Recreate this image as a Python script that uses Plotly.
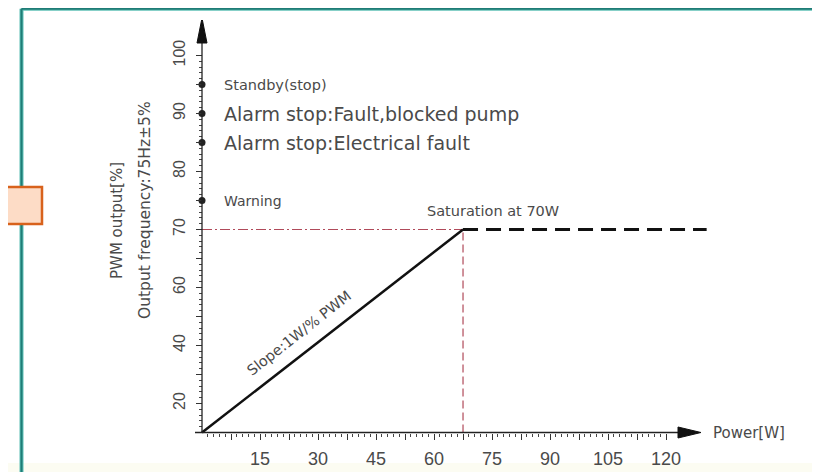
import numpy as np
import plotly.graph_objects as go

# ---------------- data ----------------
pwm_scale_values = [10, 20, 40, 60, 70, 80, 90, 100]        # PWM [%] values on the (non-linear) axis
pwm_scale_slots = [0.5, 1, 2, 3, 4, 5, 6, 7]                 # equally spaced slots used by the drawing
y_tick_values = [20, 40, 60, 70, 80, 90, 100]
y_tick_labels = ["20", "40", "60", "70", "80", "90", "100"]
x_tick_values = [15, 30, 45, 60, 75, 90, 105, 120]
x_tick_labels = ["15", "30", "45", "60", "75", "90", "105", "120"]

status_names = ["Standby(stop)", "Alarm stop:Fault,blocked pump",
                "Alarm stop:Electrical fault", "Warning"]
status_pwm = [95, 90, 85, 75]

slope_power = [0, 67.5]          # W
slope_pwm = [10, 70]             # %
saturation_power = [67.5, 130.5]
saturation_pwm = [70, 70]


def slot(v):
    return np.interp(v, pwm_scale_values, pwm_scale_slots)


# ---------------- geometry (page pixels; the page body has an 8px margin) ----------------
W, H = 820, 472
OFF = 8.0


def fx(p):      # page px -> paper x
    return (p - OFF) / W


def fy(p):      # page px -> paper y
    return 1 - (p - OFF) / H


X0, Y0 = 202.0, 432.5          # origin in page px
PXW = 3.867                    # px per W
PXS = 58.0                     # px per slot
XD = (150, 760)                # plot area page px (x)
YD = (20, 455)                 # plot area page px (y, top->bottom)

xr = [(XD[0] - X0) / PXW, (XD[1] - X0) / PXW]
yr = [0.5 - (YD[1] - Y0) / PXS, 0.5 + (Y0 - YD[0]) / PXS]

grey = "#4a4a4a"
red = "#b04a5a"
narrow = "Liberation Sans Narrow, Arial Narrow, Liberation Sans, sans-serif"
sans = "DejaVu Sans, Verdana, sans-serif"

fig = go.Figure()

# reference lines (saturation)
fig.add_trace(go.Scatter(x=[0, slope_power[1]], y=slot([70, 70]), mode="lines",
                         line=dict(color=red, width=1.2, dash="10px,3px,2px,3px"),
                         hoverinfo="skip", showlegend=False))
fig.add_trace(go.Scatter(x=[slope_power[1], slope_power[1]], y=[0.5, slot(70)], mode="lines",
                         line=dict(color=red, width=1.2, dash="8px,4px"),
                         hoverinfo="skip", showlegend=False))
# slope
fig.add_trace(go.Scatter(x=slope_power, y=slot(slope_pwm), mode="lines",
                         line=dict(color="#111111", width=2.5),
                         hoverinfo="skip", showlegend=False))
# saturation dashed
fig.add_trace(go.Scatter(x=saturation_power, y=slot(saturation_pwm), mode="lines",
                         line=dict(color="#111111", width=3, dash="15px,8px"),
                         hoverinfo="skip", showlegend=False))
# status dots
fig.add_trace(go.Scatter(x=[0] * len(status_pwm), y=slot(status_pwm), mode="markers",
                         marker=dict(color="#222222", size=7),
                         hoverinfo="skip", showlegend=False))

shapes = []
# page decoration: light bottom band
shapes.append(dict(type="rect", xref="paper", yref="paper", x0=0, x1=1,
                   y0=0, y1=fy(463), fillcolor="#fcfcf2", line=dict(width=0), layer="below"))
# axis lines
shapes.append(dict(type="line", xref="x", yref="y", x0=-7 / PXW, x1=124, y0=0.5, y1=0.5,
                   line=dict(color="#222", width=1.3)))
shapes.append(dict(type="line", xref="x", yref="y", x0=0, x1=0, y0=0.5, y1=7.3,
                   line=dict(color="#222", width=1.3)))
# arrowheads
ytip, ybase, yhw = 0.5 + (Y0 - 18) / PXS, 0.5 + (Y0 - 43) / PXS, 5 / PXW
shapes.append(dict(type="path", xref="x", yref="y",
                   path=f"M {-yhw},{ybase} L 0,{ytip} L {yhw},{ybase} Z",
                   fillcolor="#111", line=dict(color="#111", width=1)))
xtip, xbase, xhw = (701 - X0) / PXW, (678 - X0) / PXW, 5.5 / PXS
shapes.append(dict(type="path", xref="x", yref="y",
                   path=f"M {xbase},{0.5 - xhw} L {xtip},0.5 L {xbase},{0.5 + xhw} Z",
                   fillcolor="#111", line=dict(color="#111", width=1)))
# teal frame
for col, wd in (("#5fc0b6", 4), ("#1f7c76", 2)):
    shapes.append(dict(type="line", xref="paper", yref="paper", x0=fx(21.5), x1=1.02,
                       y0=fy(8.8), y1=fy(8.8), line=dict(color=col, width=wd)))
    shapes.append(dict(type="line", xref="paper", yref="paper", x0=fx(21.5), x1=fx(21.5),
                       y0=-0.02, y1=fy(8.8), line=dict(color=col, width=wd)))
# orange box
shapes.append(dict(type="rect", xref="paper", yref="paper", x0=fx(-3), x1=fx(42),
                   y0=fy(224), y1=fy(187), fillcolor="#fddcc6",
                   line=dict(color="#d8621c", width=2.5)))

annotations = []
status_sizes = [14.5, 19, 19, 14]
for name, v, fs in zip(status_names, status_pwm, status_sizes):
    annotations.append(dict(x=(222 - X0) / PXW, y=float(slot(v)), xref="x", yref="y",
                            text=name, showarrow=False, xanchor="left", yanchor="middle",
                            font=dict(family=sans, size=fs, color=grey)))
annotations.append(dict(x=slope_power[1], y=float(slot(70)), xref="x", yref="y",
                        text="Saturation at 70W", showarrow=False, xanchor="left",
                        yanchor="middle", xshift=-38, yshift=19,
                        font=dict(family=sans, size=14.5, color=grey)))
# slope label placed on the slope line
sx = (301 - X0) / PXW
sy = float(np.interp(sx, slope_power, slot(slope_pwm)))
annotations.append(dict(x=sx, y=sy, xref="x", yref="y", text="Slope:1W/% PWM",
                        showarrow=False, textangle=-38, yshift=23, xshift=-2,
                        font=dict(family=sans, size=14.5, color=grey)))
annotations.append(dict(x=(711 - X0) / PXW, y=0.5, xref="x", yref="y", text="Power[W]",
                        showarrow=False, xanchor="left", yanchor="middle",
                        font=dict(family=sans, size=15, color=grey)))
annotations.append(dict(x=fx(117), y=fy(221), xref="paper", yref="paper",
                        xanchor="center", yanchor="middle",
                        text="PWM output[%]", showarrow=False, textangle=-90,
                        font=dict(family=sans, size=15, color=grey)))
annotations.append(dict(x=fx(145), y=fy(210), xref="paper", yref="paper",
                        xanchor="center", yanchor="middle",
                        text="Output frequency:75Hz±5%", showarrow=False, textangle=-90,
                        font=dict(family=sans, size=15.5, color=grey)))

x_major = list(np.arange(7.5, 121, 7.5))
x_major_text = [x_tick_labels[x_tick_values.index(v)] if v in x_tick_values else "" for v in x_major]
x_minor = [v for v in np.arange(1.5, 121, 1.5) if v not in x_major]

y_major = [float(slot(v)) for v in y_tick_values] + [1.5, 2.5, 3.5, 4.5, 5.5, 6.5]
y_major_text = y_tick_labels + [""] * 6
y_minor = [round(v, 2) for v in np.arange(0.6, 7.0, 0.1) if abs(v * 2 - round(v * 2)) > 1e-6]

fig.update_layout(
    width=W, height=H, margin=dict(l=0, r=0, t=0, b=0),
    paper_bgcolor="white", plot_bgcolor="rgba(0,0,0,0)",
    shapes=shapes, annotations=annotations, showlegend=False,
    xaxis=dict(domain=[fx(XD[0]), fx(XD[1])], range=xr, anchor="free",
               position=fy(Y0), showgrid=False, zeroline=False, showline=False,
               tickmode="array", tickvals=x_major, ticktext=x_major_text,
               ticks="outside", ticklen=6, tickwidth=1, tickcolor="#333",
               ticklabelstandoff=4,
               tickfont=dict(family=narrow, size=18, color=grey),
               minor=dict(tickmode="array", tickvals=x_minor, ticks="outside",
                          ticklen=3, tickwidth=1, tickcolor="#444", showgrid=False)),
    yaxis=dict(domain=[fy(YD[1]), fy(YD[0])], range=yr, anchor="free",
               position=fx(X0), showgrid=False, zeroline=False, showline=False,
               tickmode="array", tickvals=y_major, ticktext=y_major_text,
               ticks="outside", ticklen=6, tickwidth=1, tickcolor="#333",
               tickangle=-90, ticklabelstandoff=5,
               tickfont=dict(family=narrow, size=16, color=grey),
               minor=dict(tickmode="array", tickvals=y_minor, ticks="outside",
                          ticklen=3, tickwidth=1, tickcolor="#444", showgrid=False)),
)

fig.write_html("out.html")
